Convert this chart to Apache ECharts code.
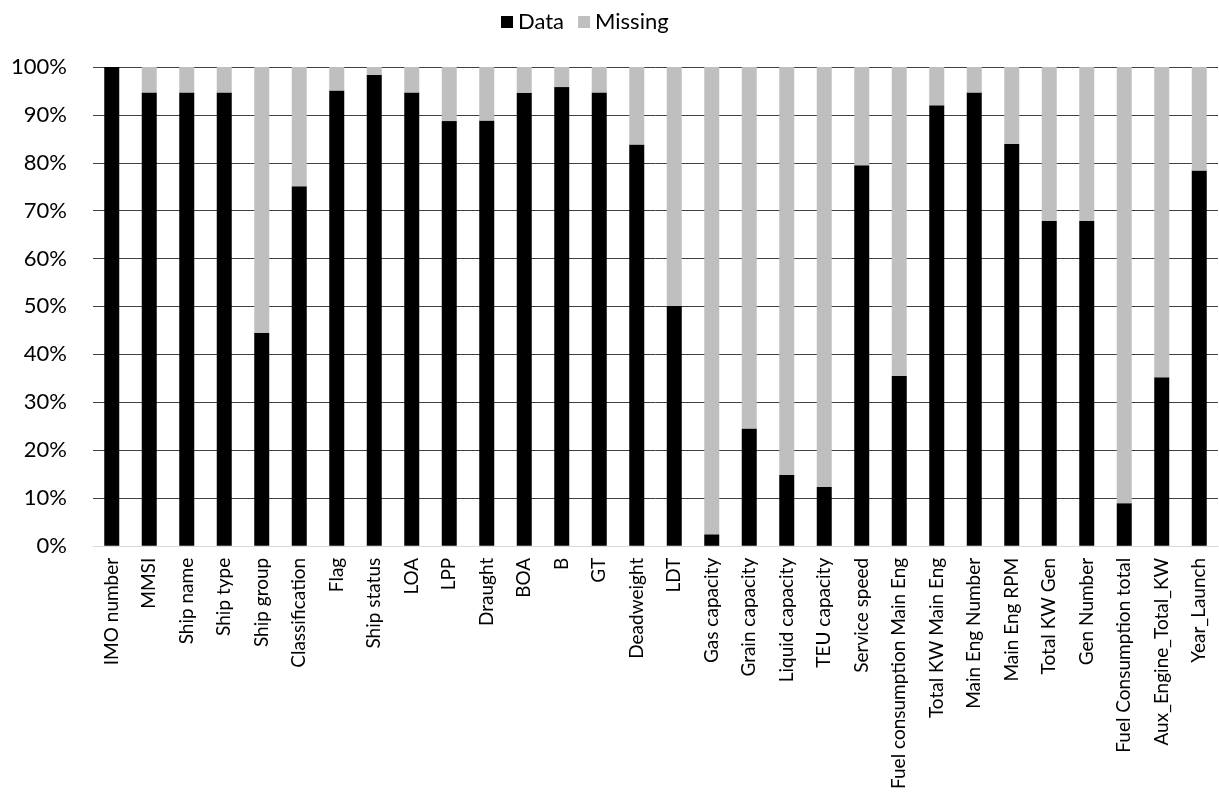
<!DOCTYPE html>
<html>
<head>
<meta charset="utf-8">
<style>
  html, body { margin: 0; padding: 0; background: #fff; }
  #chart { width: 1219px; height: 792px; }
</style>
<script src="https://cdn.jsdelivr.net/npm/echarts@6/dist/echarts.min.js"></script>
</head>
<body>
<div id="chart"></div>
<script>
// Fields of the ship dataset
const categories = [
  'IMO number', 'MMSI', 'Ship name', 'Ship type', 'Ship group', 'Classification',
  'Flag', 'Ship status', 'LOA', 'LPP', 'Draught', 'BOA', 'B', 'GT', 'Deadweight',
  'LDT', 'Gas capacity', 'Grain capacity', 'Liquid capacity', 'TEU capacity',
  'Service speed', 'Fuel consumption Main Eng', 'Total KW Main Eng', 'Main Eng Number',
  'Main Eng RPM', 'Total KW Gen', 'Gen Number', 'Fuel Consumption total',
  'Aux_Engine_Total_KW', 'Year_Launch'
];

// Share of records with a value (%)
const dataShare = [
  100, 94.7, 94.7, 94.7, 44.5, 75.1,
  95.1, 98.4, 94.7, 88.7, 88.8, 94.6, 95.8, 94.7, 83.8,
  50.1, 2.4, 24.5, 14.8, 12.3,
  79.5, 35.5, 92.0, 94.7,
  83.9, 67.9, 67.9, 8.9,
  35.2, 78.4
];

// Share of records without a value (%)
const missingShare = [
  0, 5.3, 5.3, 5.3, 55.5, 24.9,
  4.9, 1.6, 5.3, 11.3, 11.2, 5.4, 4.2, 5.3, 16.2,
  49.9, 97.6, 75.5, 85.2, 87.7,
  20.5, 64.5, 8.0, 5.3,
  16.1, 32.1, 32.1, 91.1,
  64.8, 21.6
];

// Value axis ticks
const yMin = 0, yMax = 100, yStep = 10;

const FONT = 'Lato, "Open Sans", sans-serif';

const chart = echarts.init(document.getElementById('chart'), null, { renderer: 'canvas' });

chart.setOption({
  animation: false,
  backgroundColor: '#ffffff',
  textStyle: { fontFamily: FONT },
  legend: {
    top: 6,
    left: 496,
    icon: 'rect',
    itemWidth: 12,
    itemHeight: 12,
    itemGap: 14,
    textStyle: { fontFamily: FONT, fontSize: 22, color: '#000' },
    data: ['Data', 'Missing']
  },
  grid: {
    left: 93,
    right: 1,
    top: 67,
    bottom: 244,
    containLabel: false
  },
  xAxis: {
    type: 'category',
    data: categories,
    axisLine: { show: true, lineStyle: { color: '#d9d9d9', width: 1 } },
    axisTick: { show: false },
    axisLabel: {
      rotate: 90,
      interval: 0,
      margin: 12,
      fontFamily: FONT,
      fontSize: 19,
      color: '#000'
    }
  },
  yAxis: {
    type: 'value',
    min: yMin,
    max: yMax,
    interval: yStep,
    axisLine: { show: false },
    axisTick: { show: false },
    splitLine: {
      show: true,
      showMinLine: false,
      lineStyle: { color: '#404040', width: 1 }
    },
    axisLabel: {
      formatter: '{value}%',
      margin: 26,
      fontFamily: FONT,
      fontSize: 22,
      color: '#000'
    }
  },
  series: [
    {
      name: 'Data',
      type: 'bar',
      stack: 'total',
      barWidth: 15,
      itemStyle: { color: '#000000' },
      data: dataShare
    },
    {
      name: 'Missing',
      type: 'bar',
      stack: 'total',
      barWidth: 15,
      itemStyle: { color: '#bfbfbf' },
      data: missingShare
    }
  ]
});
</script>
</body>
</html>
